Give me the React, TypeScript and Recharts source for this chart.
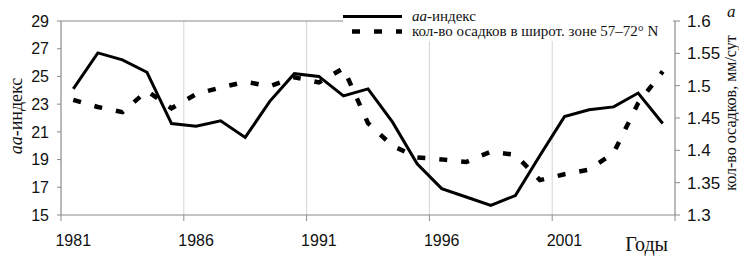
import { CartesianGrid, ComposedChart, Label, Legend, Line, ReferenceLine, XAxis, YAxis } from "recharts";

const years = [
  1981, 1982, 1983, 1984, 1985, 1986, 1987, 1988, 1989, 1990, 1991, 1992, 1993,
  1994, 1995, 1996, 1997, 1998, 1999, 2000, 2001, 2002, 2003, 2004, 2005
];
const aaIndex = [
  24.1, 26.7, 26.2, 25.3, 21.6, 21.4, 21.8, 20.6, 23.2, 25.2, 25.0, 23.6, 24.1,
  21.7, 18.7, 16.9, 16.3, 15.7, 16.4, 19.3, 22.1, 22.6, 22.8, 23.8, 21.6
];
const precipitation = [
  1.478, 1.467, 1.459, 1.492, 1.465, 1.487, 1.497, 1.506, 1.499, 1.513, 1.505, 1.527, 1.442,
  1.407, 1.389, 1.386, 1.382, 1.398, 1.393, 1.354, 1.363, 1.37, 1.396, 1.473, 1.522
];
const yearLabels = [1981, 1986, 1991, 1996, 2001];
const leftTicks = [15, 17, 19, 21, 23, 25, 27, 29];
const rightTicks = [1.3, 1.35, 1.4, 1.45, 1.5, 1.55, 1.6];

const data = years.map((year, i) => ({ year, aa: aaIndex[i], precip: precipitation[i] }));

// grid lines / ticks sit between categories (Excel-style)
const boundaryTicks = [...yearLabels.map((y) => y - 0.5), years[years.length - 1] + 0.5];

const W = 739;
const H = 256;
const PLOT_W = 614;
const HALF_STEP = PLOT_W / years.length / 2;
const serif = "'Liberation Serif', 'Times New Roman', serif";
const sans = "'Liberation Sans', Arial, sans-serif";
const axisGray = "#8a8a8a";

const YearTick = ({ x, y, payload }: any) => {
  const year = payload.value + 0.5;
  if (!yearLabels.includes(year)) return <g />;
  return (
    <text x={x + HALF_STEP} y={y} dy={23} textAnchor="middle" fontSize={16} fill="#111" fontFamily={sans}>
      {year}
    </text>
  );
};

const LegendBox = () => (
  <div style={{ background: "#fff", width: 330, padding: "2px 0", fontFamily: serif, fontSize: 15, lineHeight: "15px", color: "#111" }}>
    <div style={{ display: "flex", alignItems: "center", height: 15 }}>
      <svg width={69} height={15}>
        <line x1={0} y1={7.5} x2={59} y2={7.5} stroke="#000" strokeWidth={3} />
      </svg>
      <span>
        <i>aa</i>-индекс
      </span>
    </div>
    <div style={{ display: "flex", alignItems: "center", height: 15 }}>
      <svg width={69} height={15}>
        <line x1={9} y1={7.5} x2={59} y2={7.5} stroke="#000" strokeWidth={4.5} strokeDasharray="8 14" />
      </svg>
      <span>кол-во осадков в широт. зоне 57–72° N</span>
    </div>
  </div>
);

export default function App() {
  return (
    <div style={{ position: "absolute", left: 0, top: 0, width: W, height: H, background: "#fff" }}>
      <ComposedChart width={W} height={H} data={data} margin={{ top: 21, right: 0, bottom: 11, left: 21 }}>
        <CartesianGrid horizontal={false} vertical stroke="#d4d4d4" />
        <ReferenceLine yAxisId="left" y={29} stroke={axisGray} />
        <XAxis
          dataKey="year"
          type="number"
          domain={[1980.5, 2005.5]}
          ticks={boundaryTicks}
          tick={<YearTick />}
          tickSize={6}
          tickLine={{ stroke: axisGray }}
          axisLine={{ stroke: axisGray }}
          height={30}
          interval={0}
        >
          <Label
            content={() => (
              <text x={668} y={251} textAnchor="end" fontSize={20} fontFamily={serif} fill="#111">
                Годы
              </text>
            )}
          />
        </XAxis>
        <YAxis
          yAxisId="left"
          domain={[15, 29]}
          ticks={leftTicks}
          width={40}
          tickSize={4}
          tickMargin={8}
          tick={{ fontSize: 16, fill: "#111", fontFamily: sans }}
          tickLine={{ stroke: axisGray }}
          axisLine={{ stroke: axisGray }}
          interval={0}
        >
          <Label
            content={() => (
              <text
                x={22}
                y={116}
                transform="rotate(-90 22 116)"
                textAnchor="middle"
                fontSize={18}
                fontFamily={serif}
                fill="#111"
              >
                <tspan fontStyle="italic">aa</tspan>-индекс
              </text>
            )}
          />
        </YAxis>
        <YAxis
          yAxisId="right"
          orientation="right"
          domain={[1.3, 1.6]}
          ticks={rightTicks}
          width={64}
          tickSize={5}
          tickMargin={7}
          tick={{ fontSize: 17, fill: "#111", fontFamily: sans, textAnchor: "start" }}
          tickLine={{ stroke: axisGray }}
          axisLine={{ stroke: axisGray }}
          interval={0}
        >
          <Label
            content={() => (
              <text
                x={736}
                y={113}
                transform="rotate(-90 736 113)"
                textAnchor="middle"
                fontSize={16}
                fontFamily={serif}
                fill="#111"
              >
                кол-во осадков, мм/сут
              </text>
            )}
          />
          <Label
            content={() => (
              <text x={727} y={17} fontSize={17} fontStyle="italic" fontFamily={serif} fill="#111">
                a
              </text>
            )}
          />
        </YAxis>
        <Legend
          layout="vertical"
          align="center"
          verticalAlign="middle"
          content={<LegendBox />}
          wrapperStyle={{ left: 343, top: 7, width: 330 }}
        />
        <Line
          yAxisId="left"
          type="linear"
          dataKey="aa"
          name="aa-индекс"
          stroke="#000"
          strokeWidth={3}
          dot={false}
          isAnimationActive={false}
        />
        <Line
          yAxisId="right"
          type="linear"
          dataKey="precip"
          name="кол-во осадков"
          stroke="#000"
          strokeWidth={4.5}
          strokeDasharray="8 14"
          dot={false}
          isAnimationActive={false}
        />
      </ComposedChart>
    </div>
  );
}
